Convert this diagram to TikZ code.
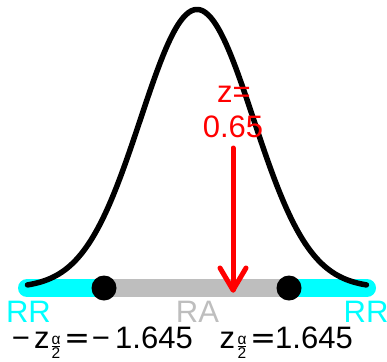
\documentclass[tikz,border=0pt]{standalone}
\usepackage{amsmath}
\usepackage{fontspec}
\setmainfont{Liberation Sans}
\newfontfamily\eqfont{DejaVu Sans}
\definecolor{rrcyan}{HTML}{00FFFF}
\definecolor{ragrey}{HTML}{BEBEBE}
\definecolor{zred}{HTML}{FF0000}
\newcommand{\halfalpha}{{\fontsize{15.5}{15.5}\selectfont$\genfrac{}{}{0.7pt}{}{\mbox{α}}{\mbox{2}}$}}
\begin{document}
\begin{tikzpicture}[x=1pt,y=-1pt,
  lbl/.style={inner sep=0pt,anchor=base,font=\fontsize{31}{34}\selectfont},
  piece/.style={lbl,anchor=base west},
  fracpiece/.style={inner sep=0pt,anchor=center},
  curve/.style={line width=5.5pt,line cap=round,line join=round},
  bar/.style={line width=18pt},
  dot/.style={circle,fill=black,minimum size=25pt,inner sep=0pt}]
\useasboundingbox (0,0) rectangle (387,361);
% region bars
\coordinate (L3) at (27,288);
\coordinate (R3) at (367,288);
\coordinate (Lc) at (104,288);
\coordinate (Rc) at (289,288);
\draw[bar,rrcyan,line cap=round] (L3) -- (R3);
\draw[bar,ragrey] (Lc) -- (Rc);
% density curve
\draw[curve] plot[domain=-3:3,samples=121,smooth] ({197+56.5*\x},{288-278.5*exp(-(\x)^2/2)});
% critical points
\node[dot] (dl) at (Lc) {};
\node[dot] (dr) at (Rc) {};
% red arrow
\coordinate (zs) at (233,148);
\coordinate (zt) at (233,290);
\coordinate (zal) at (220,268);
\coordinate (zar) at (246,268);
\draw[zred,line width=5pt,line cap=round] (zs) -- (zt);
\draw[zred,line width=5pt,line cap=round,line join=round] (zal) -- (zt) -- (zar);
\node[lbl,text=zred] (zlab) at (234,102) {z=};
\node[lbl,text=zred] (zval) at (233,137) {0.65};
% region labels
\node[lbl,text=rrcyan] (rrl) at (28.5,322) {RR};
\node[lbl,text=ragrey] (ra) at (197.5,322) {RA};
\node[lbl,text=rrcyan] (rrr) at (366,322) {RR};
% critical value, left
\node[piece] (lm1) at (11.6,348) {−};
\node[piece] (lz) at (34,348) {z};
\node[fracpiece] (lf) at (56,347.5) {\halfalpha};
\node[piece,font=\fontsize{31}{34}\eqfont] (leq) at (64,348) {=};
\node[piece] (lm2) at (91.6,348) {−};
\node[piece] (lv) at (115,348) {1.645};
% critical value, right
\node[piece] (rz) at (219.5,348) {z};
\node[fracpiece] (rf) at (242,347.5) {\halfalpha};
\node[piece,font=\fontsize{31}{34}\eqfont] (req) at (250,348) {=};
\node[piece] (rv) at (275,348) {1.645};
\end{tikzpicture}
\end{document}
